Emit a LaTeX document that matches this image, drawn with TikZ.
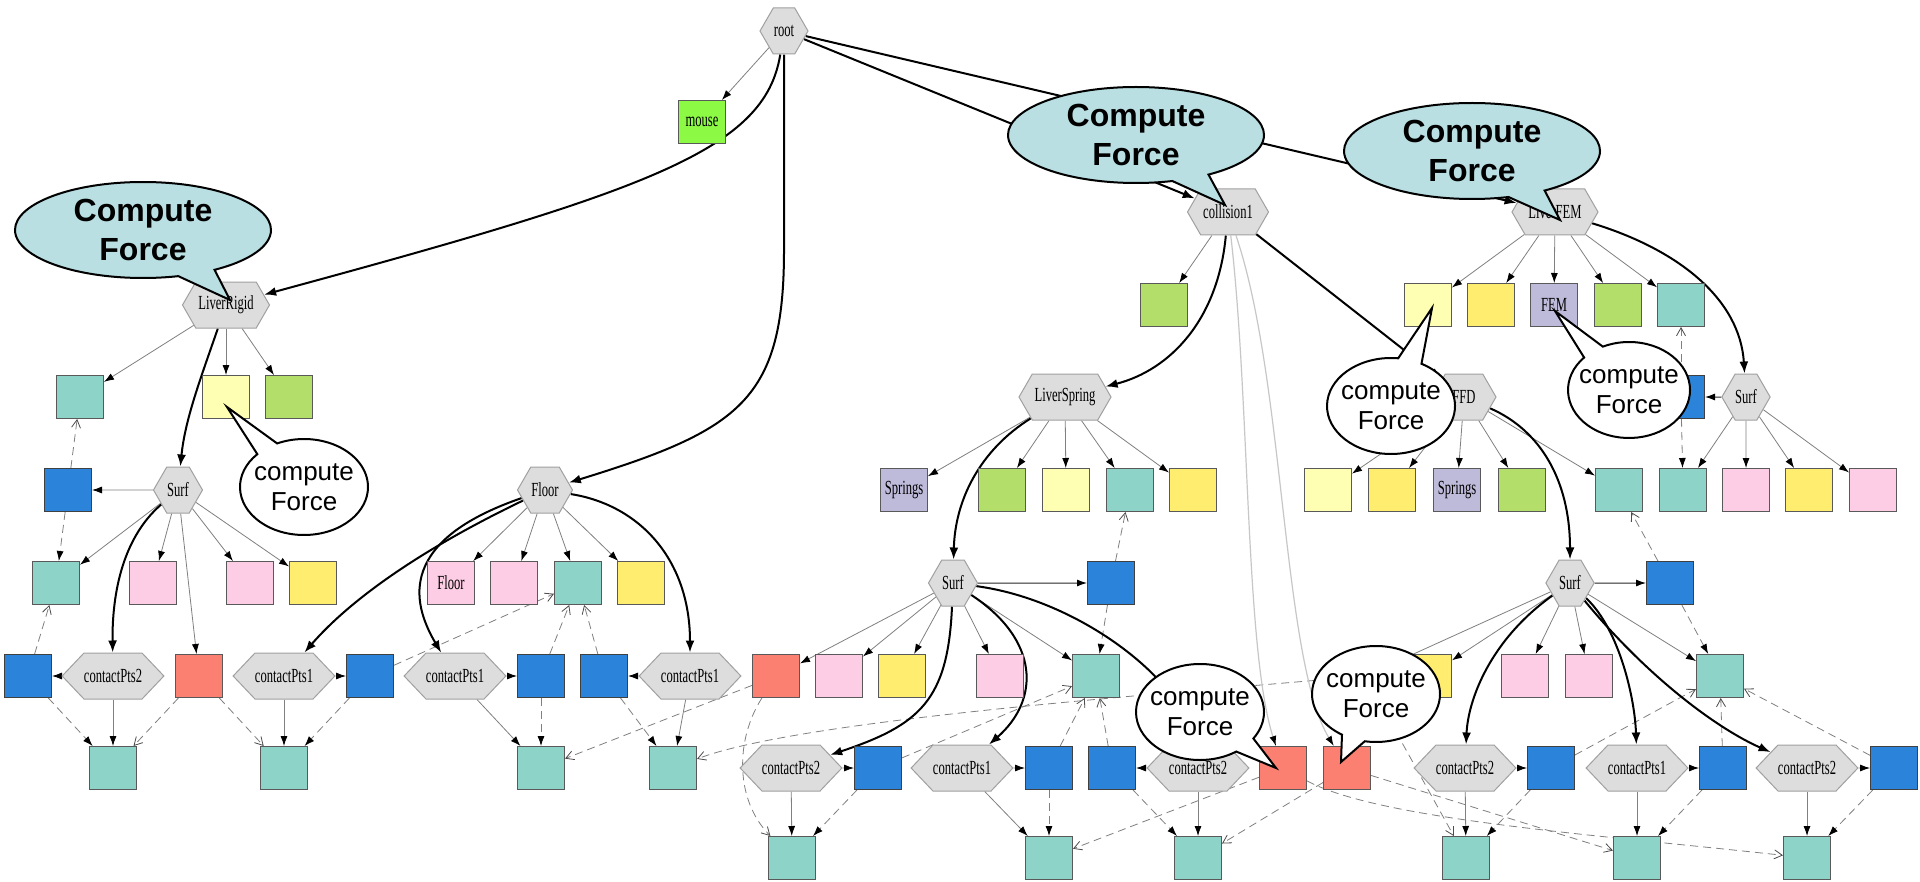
\documentclass[tikz,border=0pt]{standalone}
\usepackage{fontspec}
\usepackage{graphicx}
\usetikzlibrary{arrows.meta,shapes.symbols,shapes.callouts,shapes.geometric}
\newfontfamily\lblfont{Liberation Serif}
\newfontfamily\bubfont{Liberation Sans}
\newcommand{\cz}[1]{\scalebox{0.63}[1]{#1}}

\definecolor{cTeal}{HTML}{8DD3C7}
\definecolor{cLYel}{HTML}{FFFFB3}
\definecolor{cLav}{HTML}{BEBADA}
\definecolor{cSalm}{HTML}{FB8072}
\definecolor{cBlue}{HTML}{2B83DA}
\definecolor{cYel}{HTML}{FFED6F}
\definecolor{cPink}{HTML}{FCCDE5}
\definecolor{cLime}{HTML}{B3DE69}
\definecolor{cMouse}{HTML}{8CFA45}
\definecolor{cHex}{HTML}{DDDDDD}
\definecolor{cHexLine}{HTML}{A0A0A0}
\definecolor{cBub}{HTML}{B9DFE3}

\pgfdeclarelayer{bglayer}
\pgfdeclarelayer{edgelayer}
\pgfdeclarelayer{toplayer}
\pgfsetlayers{bglayer,edgelayer,main,toplayer}

\tikzset{
  lbl/.style={font=\lblfont\fontsize{10}{11}\selectfont},
  box/.style={rectangle, draw=black!65, line width=0.5pt, minimum width=23.5pt,
    minimum height=21.5pt, inner sep=0pt, lbl},
  bxTeal/.style={box, fill=cTeal},
  bxLYel/.style={box, fill=cLYel},
  bxLav/.style={box, fill=cLav},
  bxSalm/.style={box, fill=cSalm},
  bxBlue/.style={box, fill=cBlue, draw=black!75},
  bxYel/.style={box, fill=cYel},
  bxPink/.style={box, fill=cPink},
  bxLime/.style={box, fill=cLime},
  bxMouse/.style={box, fill=cMouse},
  hexn/.style={shape=signal, signal to=east and west, signal pointer angle=120,
    fill=cHex, draw=cHexLine, line width=0.5pt, minimum height=23pt,
    inner sep=0pt, lbl},
  cpts/.style={hexn, signal pointer angle=93, minimum width=44.5pt},
  eMain/.style={draw=black, line width=1pt, -{Latex[length=6pt,width=4.5pt]}},
  eComp/.style={draw=black!50, line width=0.4pt,
    -{Latex[length=5pt,width=3.5pt,color=black]}},
  eSide/.style={draw=black!85, line width=0.5pt,
    -{Latex[length=5pt,width=3.5pt,color=black]}},
  eMap/.style={draw=black!50, line width=0.4pt, dash pattern=on 4pt off 2.5pt,
    -{Latex[length=5pt,width=3.5pt,color=black]}},
  eLink/.style={draw=black!50, line width=0.4pt, dash pattern=on 4pt off 2.5pt,
    -{Straight Barb[length=4pt,width=4.5pt,color=black!70]}},
  eColl/.style={draw=black!22, line width=0.6pt,
    -{Latex[length=5pt,width=3.5pt,color=black]}},
  bigbub/.style={ellipse callout, draw=black, line width=1pt, fill=cBub,
    minimum width=128pt, minimum height=48pt, inner sep=-4pt,
    callout pointer arc=18, align=center,
    font=\bubfont\bfseries\fontsize{16}{19.5}\selectfont},
  smallbub/.style={ellipse callout, draw=black, line width=1pt, fill=white,
    minimum width=64pt, minimum height=48pt, inner sep=-4pt,
    callout pointer arc=22, align=center,
    font=\bubfont\fontsize{13}{15}\selectfont},
}

\begin{document}
\begin{tikzpicture}[x=0.5pt, y=-0.5pt]
\useasboundingbox (0,0) rectangle (1920,882);
\begin{pgfonlayer}{bglayer}
\fill[white] (0,0) rectangle (1920,882);
\end{pgfonlayer}

% ---------- scene graph nodes ----------
\node[hexn, minimum width=24pt] (root) at (784,31) {\cz{root}};
\node[bxMouse] (mouse) at (702,122) {\cz{mouse}};
\node[hexn, minimum width=40.5pt] (coll) at (1228,212) {\cz{collision1}};
\node[hexn, minimum width=43pt] (lfem) at (1555,212) {\cz{LiverFEM}};
\node[hexn, minimum width=43.5pt] (lrig) at (226,305) {\cz{LiverRigid}};

\node[bxLime] (cGreen) at (1164,305) {};
\node[bxLYel] (fLy) at (1428,305) {};
\node[bxYel] (fYe) at (1491,305) {};
\node[bxLav] (fFEM) at (1554,305) {\cz{FEM}};
\node[bxLime] (fGr) at (1618,305) {};
\node[bxTeal] (fTe) at (1681,305) {};

\node[bxTeal] (rTe) at (80,397) {};
\node[bxLYel] (rLy) at (226,397) {};
\node[bxLime] (rGr) at (289,397) {};
\node[hexn, minimum width=46pt] (lspr) at (1065,397) {\cz{LiverSpring}};
\node[hexn, minimum width=32pt] (ffd) at (1464,397) {\cz{FFD}};
\node[bxBlue] (fBl) at (1681,397) {};
\node[hexn, minimum width=24pt] (fSurf) at (1746,397) {\cz{Surf}};

\node[bxBlue] (rBl) at (68,490) {};
\node[hexn, minimum width=24.5pt] (rSurf) at (178,490) {\cz{Surf}};
\node[hexn, minimum width=27.5pt] (floor) at (545,490) {\cz{Floor}};
\node[bxLav] (sSpr) at (904,490) {\cz{Springs}};
\node[bxLime] (sGr) at (1002,490) {};
\node[bxLYel] (sLy) at (1066,490) {};
\node[bxTeal] (sTe) at (1130,490) {};
\node[bxYel] (sYe) at (1193,490) {};
\node[bxLYel] (dLy) at (1328,490) {};
\node[bxYel] (dYe) at (1392,490) {};
\node[bxLav] (dSpr) at (1457,490) {\cz{Springs}};
\node[bxLime] (dGr) at (1522,490) {};
\node[bxTeal] (dTe) at (1619,490) {};
\node[bxTeal] (fsTe) at (1683,490) {};
\node[bxPink] (fsPk1) at (1746,490) {};
\node[bxYel] (fsYe) at (1809,490) {};
\node[bxPink] (fsPk2) at (1873,490) {};

\node[bxTeal] (rsTe) at (56,583) {};
\node[bxPink] (rsPk1) at (153,583) {};
\node[bxPink] (rsPk2) at (250,583) {};
\node[bxYel] (rsYe) at (313,583) {};
\node[bxPink] (flPkF) at (451,583) {\cz{Floor}};
\node[bxPink] (flPk) at (514,583) {};
\node[bxTeal] (flTe) at (578,583) {};
\node[bxYel] (flYe) at (641,583) {};
\node[hexn, minimum width=24.5pt] (sSurf) at (953,583) {\cz{Surf}};
\node[bxBlue] (sBl) at (1111,583) {};
\node[hexn, minimum width=24pt] (dSurf) at (1570,583) {\cz{Surf}};
\node[bxBlue] (dBl) at (1670,583) {};

\node[bxBlue] (rcBl) at (28,676) {};
\node[cpts] (rcP2) at (113,676) {\cz{contactPts2}};
\node[bxSalm] (rsRed) at (199,676) {};
\node[cpts] (fcP1a) at (284,676) {\cz{contactPts1}};
\node[bxBlue] (fcBla) at (370,676) {};
\node[cpts] (fcP1b) at (455,676) {\cz{contactPts1}};
\node[bxBlue] (fcBlb) at (541,676) {};
\node[bxBlue] (fcBlc) at (604,676) {};
\node[cpts] (fcP1c) at (690,676) {\cz{contactPts1}};
\node[bxSalm] (ssRed) at (776,676) {};
\node[bxPink] (ssPk1) at (839,676) {};
\node[bxYel] (ssYe) at (902,676) {};
\node[bxPink] (ssPk2) at (1000,676) {};
\node[bxTeal] (ssTe) at (1096,676) {};
\node[bxSalm] (dsRed) at (1365,676) {};
\node[bxYel] (dsYe) at (1428,676) {};
\node[bxPink] (dsPk1) at (1525,676) {};
\node[bxPink] (dsPk2) at (1589,676) {};
\node[bxTeal] (dsTe) at (1720,676) {};

\node[bxTeal] (rcTe) at (113,768) {};
\node[bxTeal] (fcTea) at (284,768) {};
\node[bxTeal] (fcTeb) at (541,768) {};
\node[bxTeal] (fcTec) at (673,768) {};
\node[cpts] (scP2a) at (791,768) {\cz{contactPts2}};
\node[bxBlue] (scBla) at (878,768) {};
\node[cpts] (scP1) at (962,768) {\cz{contactPts1}};
\node[bxBlue] (scBlb) at (1049,768) {};
\node[bxBlue] (scBlc) at (1112,768) {};
\node[cpts] (scP2b) at (1198,768) {\cz{contactPts2}};
\node[bxSalm] (cRed1) at (1283,768) {};
\node[bxSalm] (cRed2) at (1347,768) {};
\node[cpts] (dcP2a) at (1465,768) {\cz{contactPts2}};
\node[bxBlue] (dcBla) at (1551,768) {};
\node[cpts] (dcP1) at (1637,768) {\cz{contactPts1}};
\node[bxBlue] (dcBlb) at (1723,768) {};
\node[cpts] (dcP2b) at (1807,768) {\cz{contactPts2}};
\node[bxBlue] (dcBlc) at (1894,768) {};

\node[bxTeal] (scTea) at (792,858) {};
\node[bxTeal] (scTeb) at (1049,858) {};
\node[bxTeal] (scTec) at (1198,858) {};
\node[bxTeal] (dcTea) at (1466,858) {};
\node[bxTeal] (dcTeb) at (1637,858) {};
\node[bxTeal] (dcTec) at (1807,858) {};

% ---------- connectors ----------
\begin{pgfonlayer}{edgelayer}
% components attached to each node
\foreach \a/\b in {root/mouse, coll/cGreen,
    lfem/fLy, lfem/fYe, lfem/fFEM, lfem/fGr, lfem/fTe,
    lrig/rTe, lrig/rLy, lrig/rGr,
    rSurf/rBl, rSurf/rsTe, rSurf/rsPk1, rSurf/rsPk2, rSurf/rsYe, rSurf/rsRed,
    floor/flPkF, floor/flPk, floor/flTe, floor/flYe,
    lspr/sSpr, lspr/sGr, lspr/sLy, lspr/sTe, lspr/sYe,
    sSurf/ssRed, sSurf/ssPk1, sSurf/ssYe, sSurf/ssPk2, sSurf/ssTe,
    ffd/dLy, ffd/dYe, ffd/dSpr, ffd/dGr, ffd/dTe,
    dSurf/dsRed, dSurf/dsYe, dSurf/dsPk1, dSurf/dsPk2, dSurf/dsTe,
    fSurf/fsTe, fSurf/fsPk1, fSurf/fsYe, fSurf/fsPk2,
    rcP2/rcBl, rcP2/rcTe, fcP1a/fcBla, fcP1a/fcTea,
    fcP1b/fcBlb, fcP1b/fcTeb, fcP1c/fcBlc, fcP1c/fcTec,
    scP2a/scBla, scP2a/scTea, scP1/scBlb, scP1/scTeb,
    scP2b/scBlc, scP2b/scTec,
    dcP2a/dcBla, dcP2a/dcTea, dcP1/dcBlb, dcP1/dcTeb,
    dcP2b/dcBlc, dcP2b/dcTec}
  \draw[eComp] (\a) -- (\b);
\draw[eSide] (sSurf) -- (sBl);
\draw[eSide] (dSurf) -- (dBl);
\draw[eSide] (fSurf) -- (fBl);

% mappings: blue state down to its parent state (filled head)
\foreach \a/\b in {rBl/rsTe, rcBl/rcTe, fcBla/fcTea, fcBlb/fcTeb, fcBlc/fcTec,
    sBl/ssTe, scBla/scTea, scBlb/scTeb, scBlc/scTec,
    dBl/dsTe, dcBla/dcTea, dcBlb/dcTeb, dcBlc/dcTec, fBl/fsTe}
  \draw[eMap] (\a) -- (\b);
% mappings: blue state up to its source state (open head)
\foreach \a/\b in {rBl/rTe, rcBl/rsTe, fcBla/flTe, fcBlb/flTe, fcBlc/flTe,
    sBl/sTe, scBla/ssTe, scBlb/ssTe, scBlc/ssTe,
    dBl/dTe, dcBla/dsTe, dcBlb/dsTe, dcBlc/dsTe, fBl/fTe}
  \draw[eLink] (\a) -- (\b);

% interaction links between contact states
\draw[eLink] (rsRed) -- (rcTe);
\draw[eLink] (rsRed) -- (fcTea);
\draw[eLink] (ssRed) -- (fcTeb);
\draw[eLink] (ssRed) .. controls (735,740) and (735,800) .. (scTea);
\draw[eLink] (dsRed) .. controls (1150,695) and (800,720) .. (fcTec);
\draw[eLink] (dsRed) -- (dcTea);
\draw[eLink] (cRed1) -- (scTeb);
\draw[eLink] (cRed1) .. controls (1380,820) and (1600,835) .. (dcTec);
\draw[eLink] (cRed2) -- (scTec);
\draw[eLink] (cRed2) -- (dcTeb);

% collision pipeline outputs
\draw[eColl] (coll) .. controls (1250,400) and (1245,650) .. (cRed1);
\draw[eColl] (coll) .. controls (1285,380) and (1282,660) .. (cRed2);

% hierarchy
\draw[eMain] (root) .. controls (765,150) and (650,190) .. (lrig);
\draw[eMain] (root) -- (784,250) .. controls (784,400) and (740,430) .. (floor);
\draw[eMain] (root) -- (coll);
\draw[eMain] (root) -- (lfem);
\draw[eMain] (lrig) .. controls (200,380) and (185,420) .. (rSurf);
\draw[eMain] (rSurf) .. controls (120,540) and (112,600) .. (rcP2);
\draw[eMain] (floor) .. controls (420,550) and (350,600) .. (fcP1a);
\draw[eMain] (floor) .. controls (400,540) and (410,600) .. (fcP1b);
\draw[eMain] (floor) .. controls (640,505) and (690,560) .. (fcP1c);
\draw[eMain] (coll) .. controls (1218,320) and (1170,370) .. (lspr);
\draw[eMain] (coll) -- (ffd);
\draw[eMain] (lspr) .. controls (980,450) and (955,500) .. (sSurf);
\draw[eMain] (sSurf) .. controls (948,700) and (920,725) .. (scP2a);
\draw[eMain] (sSurf) .. controls (1040,640) and (1040,700) .. (scP1);
\draw[eMain] (sSurf) .. controls (1080,600) and (1180,680) .. (scP2b);
\draw[eMain] (ffd) .. controls (1540,430) and (1570,480) .. (dSurf);
\draw[eMain] (dSurf) .. controls (1490,640) and (1468,700) .. (dcP2a);
\draw[eMain] (dSurf) .. controls (1620,630) and (1635,700) .. (dcP1);
\draw[eMain] (dSurf) .. controls (1650,680) and (1720,730) .. (dcP2b);
\draw[eMain] (lfem) .. controls (1680,250) and (1740,300) .. (fSurf);
\end{pgfonlayer}

% ---------- speech bubbles ----------
\begin{pgfonlayer}{toplayer}
\node[bigbub, callout absolute pointer={(230,300)}] (cfRigid) at (143,230) {Compute\\Force};
\node[bigbub, callout absolute pointer={(1225,205)}] (cfColl) at (1136,135) {Compute\\Force};
\node[bigbub, callout absolute pointer={(1560,220)}] (cfFem) at (1472,151) {Compute\\Force};
\node[smallbub, callout absolute pointer={(227,407)}] (cfA) at (304,487) {compute\\Force};
\node[smallbub, callout absolute pointer={(1432,308)}] (cfB) at (1391,406) {compute\\Force};
\node[smallbub, minimum width=61pt, callout absolute pointer={(1555,311)}] (cfC) at (1629,390) {compute\\Force};
\node[smallbub, callout absolute pointer={(1276,768)}] (cfD) at (1200,712) {compute\\Force};
\node[smallbub, callout absolute pointer={(1341,762)}] (cfE) at (1376,694) {compute\\Force};
\end{pgfonlayer}
\end{tikzpicture}
\end{document}
